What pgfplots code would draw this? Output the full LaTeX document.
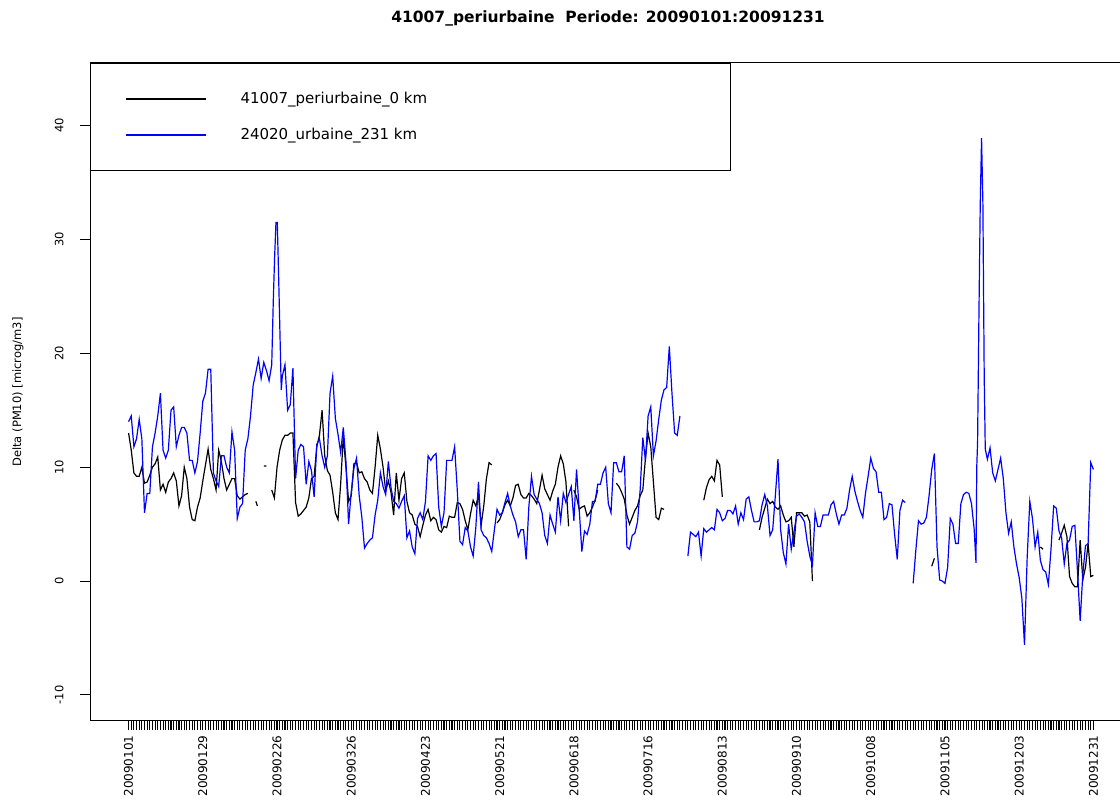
\documentclass[border=0pt]{standalone}
\usepackage{fontspec}
\setmainfont{DejaVu Sans}
\usepackage{pgfplots}
\pgfplotsset{compat=1.18}
\usepackage{pgfplotstable}

\pgfplotstableread[row sep=\\]{
x y\\
0 13.0\\ 1 11.5\\ 2 9.5\\ 3 9.2\\ 4 9.2\\ 5 10.0\\ 6 8.6\\ 7 8.7\\ 8 9.3\\ 9 10.0\\
10 10.3\\ 11 10.9\\ 12 8.0\\ 13 8.5\\ 14 7.8\\ 15 8.7\\ 16 9.0\\ 17 9.5\\ 18 8.8\\ 19 6.6\\
20 7.5\\ 21 10.0\\ 22 9.0\\ 23 6.5\\ 24 5.4\\ 25 5.3\\ 26 6.5\\ 27 7.3\\ 28 8.8\\ 29 10.2\\
30 11.6\\ 31 9.8\\ 32 9.0\\ 33 8.0\\ 34 11.5\\ 35 10.5\\ 36 9.0\\ 37 8.0\\ 38 8.5\\ 39 9.0\\
40 9.0\\ 41 7.5\\ 42 7.2\\ 43 7.4\\ 44 7.6\\ 45 7.7\\ 46 nan\\
48 7.0\\ 48.6 6.6\\ 49 nan\\
51 10.1\\ 52 10.1\\ 53 nan\\
54 8.0\\ 55 7.3\\ 56 10.0\\ 57 11.5\\ 58 12.4\\ 59 12.8\\
60 12.8\\ 61 13.0\\ 62 13.0\\ 63 6.9\\ 64 5.7\\ 65 5.9\\ 66 6.2\\ 67 6.5\\ 68 7.3\\ 69 9.0\\
70 9.2\\ 71 11.8\\ 72 12.8\\ 73 15.0\\ 74 11.0\\ 75 9.7\\ 76 9.3\\ 77 7.8\\ 78 6.0\\ 79 5.4\\
80 8.5\\ 81 12.7\\ 82 10.0\\ 83 7.0\\ 84 7.5\\ 85 10.3\\ 86 10.4\\ 87 9.5\\ 88 9.6\\ 89 9.0\\
90 8.7\\ 91 8.0\\ 92 7.7\\ 93 10.0\\ 94 12.8\\ 95 11.6\\ 96 10.0\\ 97 7.9\\ 98 8.8\\ 99 7.8\\
100 5.8\\ 101 9.5\\ 102 7.1\\ 103 9.0\\ 104 9.5\\ 105 7.0\\ 106 6.0\\ 107 5.8\\ 108 5.0\\ 109 4.8\\
110 3.9\\ 111 4.9\\ 112 5.8\\ 113 6.3\\ 114 5.3\\ 115 5.6\\ 116 5.4\\ 117 4.5\\ 118 4.3\\ 119 4.8\\
120 4.7\\ 121 5.7\\ 122 5.6\\ 123 5.6\\ 124 6.9\\ 125 6.8\\ 126 6.3\\ 127 5.3\\ 128 4.5\\ 129 5.9\\
130 7.1\\ 131 6.6\\ 132 7.5\\ 133 4.9\\ 134 6.6\\ 135 9.0\\ 136 10.4\\ 137 10.2\\ 138 nan\\
139 5.1\\ 140 5.4\\ 141 6.0\\ 142 6.7\\ 143 7.1\\ 144 6.6\\ 145 7.3\\ 146 8.4\\ 147 8.5\\ 148 7.6\\ 149 7.3\\
150 7.3\\ 151 7.7\\ 152 7.5\\ 153 7.2\\ 154 6.8\\ 155 8.0\\ 156 9.3\\ 157 8.1\\ 158 7.6\\ 159 7.1\\
160 7.9\\ 161 8.5\\ 162 10.0\\ 163 11.0\\ 164 10.3\\ 165 8.7\\ 166 4.8\\ 167 nan\\
168 8.0\\ 169 7.4\\ 170 6.3\\ 171 6.5\\ 172 6.6\\ 173 5.7\\ 174 6.0\\ 175 6.5\\ 176 7.1\\ 177 8.0\\ 178 nan\\
184 8.6\\ 185 8.3\\ 186 7.8\\ 187 7.2\\ 188 5.8\\ 189 5.0\\ 190 5.6\\ 191 6.2\\ 192 6.6\\ 193 7.5\\
194 8.0\\ 195 10.8\\ 196 13.0\\ 197 11.8\\ 198 8.7\\ 199 5.6\\ 200 5.4\\ 201 6.4\\ 202 6.3\\ 203 nan\\
217 7.1\\ 218 8.2\\ 219 8.9\\ 220 9.2\\ 221 8.8\\ 222 10.6\\ 223 10.2\\ 224 7.4\\ 225 nan\\
238 4.5\\ 239 5.6\\ 240 6.4\\ 241 7.2\\ 242 6.8\\ 243 7.0\\ 244 6.5\\ 245 6.3\\ 246 6.6\\ 247 5.8\\
248 5.2\\ 249 5.3\\ 250 5.6\\ 251 3.0\\ 252 6.0\\ 253 6.0\\ 254 6.0\\ 255 5.7\\ 256 5.8\\ 257 5.2\\
258 0.0\\ 259 nan\\
303 1.3\\ 304 2.0\\ 305 nan\\
344 3.0\\ 345 2.8\\ 346 nan\\
351 3.6\\ 352 4.2\\ 353 4.9\\ 354 3.9\\ 355 0.4\\ 356 -0.2\\ 357 -0.5\\ 358 -0.5\\ 359 3.6\\
360 0.1\\ 361 1.2\\ 362 3.3\\ 363 0.4\\ 364 0.5\\
}\blackdata

\pgfplotstableread[row sep=\\]{
x y\\
0 14.0\\ 1 14.5\\ 2 11.8\\ 3 12.5\\ 4 14.2\\ 5 12.5\\ 6 6.0\\ 7 7.7\\ 8 7.7\\ 9 11.8\\
10 13.0\\ 11 14.5\\ 12 16.5\\ 13 11.5\\ 14 10.8\\ 15 11.5\\ 16 15.0\\ 17 15.3\\ 18 11.8\\ 19 12.8\\
20 13.5\\ 21 13.5\\ 22 13.0\\ 23 10.6\\ 24 10.6\\ 25 9.5\\ 26 10.5\\ 27 13.0\\ 28 15.8\\ 29 16.5\\
30 18.6\\ 31 18.6\\ 32 9.5\\ 33 8.8\\ 34 8.3\\ 35 11.0\\ 36 11.0\\ 37 10.0\\ 38 9.5\\ 39 13.1\\
40 11.5\\ 41 5.5\\ 42 6.5\\ 43 6.8\\ 44 11.5\\ 45 12.5\\ 46 14.5\\ 47 17.2\\ 48 18.3\\ 49 19.5\\
50 17.8\\ 51 19.2\\ 52 18.5\\ 53 17.6\\ 54 19.0\\ 54.6 24.7\\ 55.1 28.5\\ 55.6 31.5\\ 56.1 31.5\\
56.6 26.8\\ 57.1 21.8\\ 57.6 16.8\\ 58 18.0\\ 59 19.0\\
60 15.0\\ 61 15.5\\ 62 18.7\\ 63 9.0\\ 64 11.5\\ 65 12.0\\ 66 11.8\\ 67 8.5\\ 68 10.5\\ 69 9.7\\
70 7.4\\ 71 12.0\\ 72 12.5\\ 73 11.0\\ 74 10.0\\ 75 11.0\\ 76 16.5\\ 77 18.0\\ 78 14.3\\ 79 12.9\\
80 11.3\\ 81 13.5\\ 82 10.5\\ 83 5.0\\ 84 7.8\\ 85 9.9\\ 86 10.8\\ 87 7.5\\ 88 5.6\\ 89 2.9\\
90 3.3\\ 91 3.6\\ 92 3.8\\ 93 5.8\\ 94 7.1\\ 95 9.5\\ 96 8.3\\ 97 7.6\\ 98 10.5\\ 99 8.2\\
100 7.0\\ 101 6.8\\ 102 6.4\\ 103 7.0\\ 104 7.5\\ 105 3.8\\ 106 4.4\\ 107 3.0\\ 108 2.4\\ 109 5.5\\
110 6.0\\ 111 5.4\\ 112 7.0\\ 113 11.0\\ 114 10.6\\ 115 11.0\\ 116 11.2\\ 117 6.5\\ 118 4.8\\ 119 6.0\\
120 10.6\\ 121 10.6\\ 122 10.6\\ 123 11.8\\ 124 8.0\\ 125 3.5\\ 126 3.2\\ 127 4.7\\ 128 4.4\\ 129 3.0\\
130 2.2\\ 131 4.7\\ 132 8.7\\ 133 4.5\\ 134 4.0\\ 135 3.8\\ 136 3.3\\ 137 2.6\\ 138 4.5\\ 139 6.3\\
140 5.8\\ 141 6.0\\ 142 6.9\\ 143 7.7\\ 144 6.6\\ 145 5.8\\ 146 5.2\\ 147 3.9\\ 148 4.5\\ 149 4.5\\
150 1.9\\ 151 6.5\\ 152 9.2\\ 153 7.6\\ 154 7.2\\ 155 6.8\\ 156 6.0\\ 157 4.0\\ 158 3.3\\ 159 5.8\\
160 5.0\\ 161 4.3\\ 162 7.4\\ 163 5.3\\ 164 7.7\\ 165 6.9\\ 166 7.6\\ 167 8.3\\ 168 5.3\\ 169 9.8\\
170 6.3\\ 171 2.6\\ 172 4.4\\ 173 4.1\\ 174 5.0\\ 175 7.0\\ 176 7.0\\ 177 8.5\\ 178 8.5\\ 179 9.5\\
180 10.0\\ 181 6.8\\ 182 6.0\\ 183 10.4\\ 184 10.4\\ 185 9.6\\ 186 9.6\\ 187 11.0\\ 188 3.0\\ 189 2.8\\
190 4.0\\ 191 4.2\\ 192 5.2\\ 193 8.0\\ 194 12.6\\ 195 10.6\\ 196 14.5\\ 197 15.3\\ 198 11.0\\ 199 12.3\\
200 14.2\\ 201 15.9\\ 202 16.8\\ 203 17.0\\ 204 20.6\\ 205 16.5\\ 206 13.0\\ 207 12.8\\ 208 14.5\\ 209 nan\\
211 2.2\\ 212 4.3\\ 213 4.1\\ 214 3.9\\ 215 4.3\\ 216 2.2\\ 217 4.6\\ 218 4.3\\ 219 4.5\\
220 4.7\\ 221 4.5\\ 222 6.3\\ 223 6.0\\ 224 5.3\\ 225 5.5\\ 226 6.2\\ 227 6.2\\ 228 5.9\\ 229 6.6\\
230 5.0\\ 231 6.0\\ 232 5.4\\ 233 7.2\\ 234 7.4\\ 235 6.2\\ 236 5.2\\ 237 5.2\\ 238 5.3\\ 239 6.7\\
240 7.6\\ 241 6.6\\ 242 4.0\\ 243 4.5\\ 244 7.5\\ 245 10.7\\ 246 4.5\\ 247 2.5\\ 248 1.5\\ 249 5.0\\
250 2.8\\ 251 4.3\\ 252 5.7\\ 253 5.9\\ 254 5.6\\ 255 5.2\\ 256 3.5\\ 257 2.2\\ 258 1.4\\ 259 6.0\\
260 4.8\\ 261 4.8\\ 262 5.8\\ 263 5.8\\ 264 5.8\\ 265 6.7\\ 266 7.0\\ 267 5.9\\ 268 5.0\\ 269 5.8\\
270 5.8\\ 271 6.4\\ 272 8.0\\ 273 9.2\\ 274 7.9\\ 275 7.0\\ 276 6.2\\ 277 5.6\\ 278 7.7\\ 279 9.2\\
280 10.8\\ 281 9.9\\ 282 9.6\\ 283 7.8\\ 284 7.8\\ 285 5.4\\ 286 5.6\\ 287 6.8\\ 288 6.7\\ 289 4.1\\
290 1.9\\ 291 6.2\\ 292 7.1\\ 293 6.9\\ 294 nan\\
296 -0.2\\ 297 2.7\\ 298 5.3\\ 299 5.0\\
300 5.1\\ 301 5.6\\ 302 7.5\\ 303 9.8\\ 304 11.2\\ 305 3.0\\ 306 0.1\\ 307 0.0\\ 308 -0.2\\ 309 1.2\\
310 5.5\\ 311 5.0\\ 312 3.3\\ 313 3.3\\ 314 6.8\\ 315 7.6\\ 316 7.8\\ 317 7.7\\ 318 6.8\\ 319 4.6\\
319.7 1.6\\ 320.0 10.1\\ 320.3 12.2\\ 320.8 23.2\\ 321.3 33.0\\ 321.8 38.9\\ 322.3 33.2\\ 322.8 18.0\\ 323.2 11.6\\
324 10.7\\ 325 11.7\\ 326 9.5\\ 327 8.8\\ 328 9.8\\ 329 10.8\\
330 9.0\\ 331 6.0\\ 332 4.2\\ 333 5.2\\ 334 3.0\\ 335 1.5\\ 336 0.3\\ 337 -1.5\\ 338 -5.6\\ 339 2.0\\
340 7.0\\ 341 5.5\\ 342 3.0\\ 343 4.3\\ 344 1.8\\ 345 1.0\\ 346 0.8\\ 347 -0.3\\ 348 2.8\\ 349 6.6\\
350 6.4\\ 351 4.4\\ 352 3.8\\ 353 1.5\\ 354 3.3\\ 355 3.6\\ 356 4.8\\ 357 4.9\\ 358 0.8\\ 359 -3.5\\
360 0.6\\ 361 3.1\\ 362 3.3\\ 363 10.4\\ 364 9.8\\
}\bluedata

\begin{document}
\begin{tikzpicture}
\path[use as bounding box] (0bp,0bp) rectangle (1120bp,801bp);
\begin{axis}[
  at={(90bp,81bp)}, anchor=south west,
  scale only axis, width=1042bp, height=657bp,
  xmin=-14.56, xmax=378.56, ymin=-12.2, ymax=45.5,
  axis line style={black, line width=1bp},
  xtick={0,28,...,364},
  xticklabels={20090101,20090129,20090226,20090326,20090423,20090521,20090618,20090716,20090813,20090910,20091008,20091105,20091203,20091231},
  minor xtick={0,1,...,364},
  ytick={-10,0,10,20,30,40},
  yticklabels={-10,0,10,20,30,40},
  tick align=outside,
  major tick length=10bp, minor tick length=10bp,
  xtick pos=bottom, ytick pos=left,
  every tick/.style={black, line width=1.1bp},
  every minor tick/.style={black, line width=1.1bp},
  xticklabel style={rotate=90, anchor=east, xshift=-2bp, font=\fontsize{12bp}{14bp}\selectfont},
  yticklabel style={rotate=90, anchor=south, yshift=13bp, font=\fontsize{11.5bp}{13bp}\selectfont},
  unbounded coords=jump,
  legend style={at={(0,1)}, anchor=north west, draw=black, line width=1bp,
    inner xsep=0pt, inner ysep=17.5bp, font=\fontsize{15bp}{18bp}\selectfont,
    cells={anchor=west}, nodes={inner sep=0pt}, row sep=0pt, column sep=0pt},
  legend image code/.code={\path[draw=none, fill=none] (-35bp,-18bp) rectangle (115bp,18bp);
    \draw[#1] (0bp,0bp) -- (80bp,0bp);},
]
\addplot[black, line width=1.2bp] table[x=x, y=y] {\blackdata};
\addlegendentry{\makebox[490bp][l]{41007\_periurbaine\_0 km}}
\addplot[blue, line width=1.2bp] table[x=x, y=y] {\bluedata};
\addlegendentry{\makebox[490bp][l]{24020\_urbaine\_231 km}}
\end{axis}
\node[font=\bfseries\fontsize{15.5bp}{18bp}\selectfont] at (608bp,783bp) {41007\_periurbaine\ \ Periode: 20090101:20091231};
\node[rotate=90, font=\fontsize{11.5bp}{14bp}\selectfont] at (18bp,409bp) {Delta (PM10) [microg/m3]};
\end{tikzpicture}
\end{document}
